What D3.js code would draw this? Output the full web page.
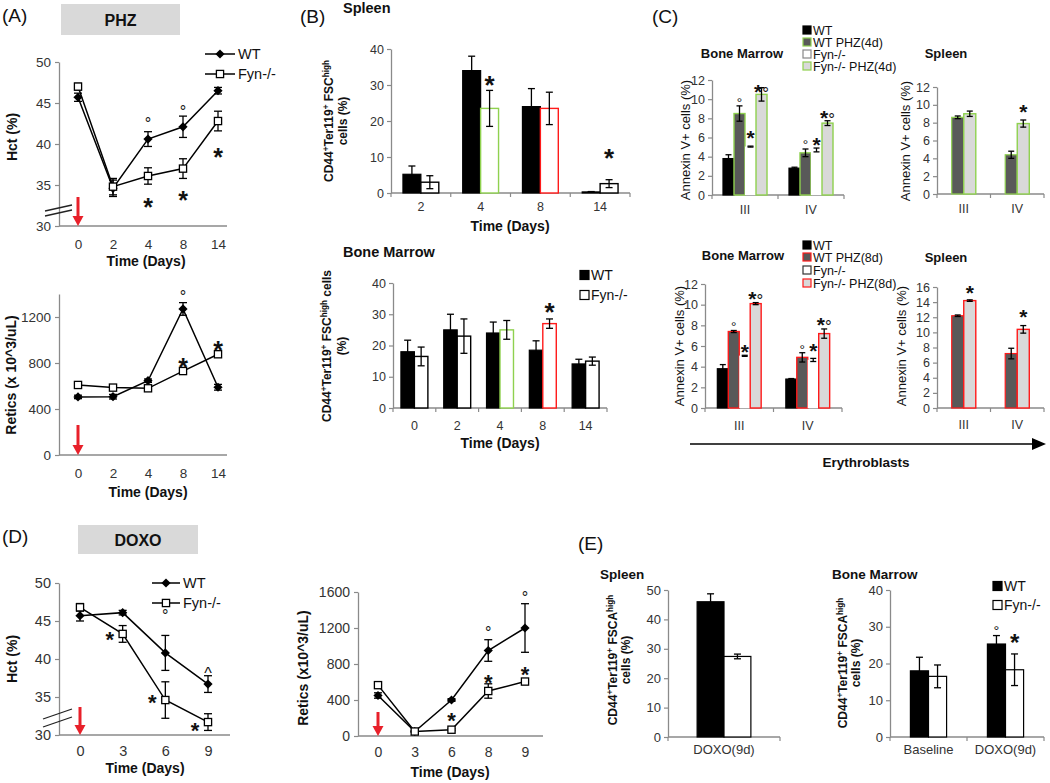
<!DOCTYPE html>
<html><head><meta charset="utf-8">
<script src="https://cdn.jsdelivr.net/npm/d3@7/dist/d3.min.js"></script>
<style>body{margin:0;background:#fff}</style>
</head><body>
<svg id="c" width="1050" height="783"></svg>
<script>
// ================= DATA =================
// (A) PHZ – Hct
const phzDays = ["0","2","4","8","14"];
const phzHctWT     = [45.7, 34.6, 40.6, 42.1, 46.5];
const phzHctWTErr  = [0.5, 1.0, 0.9, 1.3, 0.4];
const phzHctFyn    = [47.0, 34.8, 36.1, 37.0, 42.8];
const phzHctFynErr = [0.4, 1.0, 1.0, 1.2, 1.2];
const phzHctTicks  = [30, 35, 40, 45, 50];
const phzHctMarks  = [["4",43.2,"°"],["8",44.6,"°"],["4",32.9,"*"],["8",33.8,"*"],["14",39.0,"*"]];
// (A) PHZ – Retics
const phzRetWT     = [505, 507, 646, 1270, 589];
const phzRetWTErr  = [15, 20, 15, 55, 25];
const phzRetFyn    = [609, 586, 580, 730, 876];
const phzRetFynErr = [15, 20, 20, 20, 25];
const phzRetTicks  = [0, 400, 800, 1200];
const phzRetMarks  = [["8",1426,"°"],["8",809,"*"],["14",957,"*"]];
// (B) Spleen
const spleenDays   = ["2","4","8","14"];
const spleenWT     = [5.2, 34.0, 24.0, 0.3];
const spleenWTErr  = [2.3, 4.0, 5.0, 0.1];
const spleenFyn    = [3.0, 23.5, 23.5, 2.6];
const spleenFynErr = [1.8, 5.0, 4.5, 1.1];
const spleenTicks  = [0, 10, 20, 30, 40];
const spleenMarks  = [["4",1,31.5,"*"],["14",1,11.4,"*"]];
// (B) Bone marrow
const bmDays       = ["0","2","4","8","14"];
const bmWT         = [18.0, 25.0, 24.0, 18.5, 14.1];
const bmWTErr      = [3.7, 5.0, 3.5, 3.0, 1.5];
const bmFyn        = [16.5, 23.0, 25.0, 27.0, 15.0];
const bmFynErr     = [3.0, 5.5, 3.0, 1.5, 1.3];
const bmMarks      = [["8",1,32.5,"*"]];
// (C) Annexin V
const stages = ["III","IV"];
const bm4WT = [3.8, 2.8],  bm4WTErr = [0.4, 0.1];
const bm4WTPHZ = [8.5, 4.4], bm4WTPHZErr = [0.8, 0.4];
const bm4Fyn = [5.05, 4.7], bm4FynErr = [0.05, 0.2];
const bm4FynPHZ = [10.5, 7.5], bm4FynPHZErr = [0.7, 0.25];
const bm4Marks = [["III",1,10.1,"°"],["III",2,6.5,"*"],["III",3,11.3,"*°"],["IV",1,5.7,"°"],["IV",2,5.7,"*"],["IV",3,8.6,"*°"]];
const sp4WTPHZ = [8.6, 4.4], sp4WTPHZErr = [0.15, 0.4];
const sp4FynPHZ = [9.0, 7.9], sp4FynPHZErr = [0.3, 0.4];
const sp4Marks = [["IV",1,9.75,"*"]];
const bm8WT = [3.8, 2.8], bm8WTErr = [0.4, 0.05];
const bm8WTPHZ = [7.4, 4.9], bm8WTPHZErr = [0.1, 0.45];
const bm8Fyn = [5.05, 4.65], bm8FynErr = [0.05, 0.15];
const bm8FynPHZ = [10.1, 7.2], bm8FynPHZErr = [0.1, 0.45];
const bm8Marks = [["III",1,8.3,"°"],["III",2,5.9,"*"],["III",3,11.0,"*°"],["IV",1,6.1,"°"],["IV",2,6.0,"*"],["IV",3,8.5,"*°"]];
const sp8WTPHZ = [12.2, 7.2], sp8WTPHZErr = [0.1, 0.7];
const sp8FynPHZ = [14.2, 10.4], sp8FynPHZErr = [0.1, 0.5];
const sp8Marks = [["III",1,15.9,"*"],["IV",1,12.7,"*"]];
const annexTicks12 = [0,2,4,6,8,10,12];
const annexTicks16 = [0,2,4,6,8,10,12,14,16];
// (D) DOXO – Hct
const doxDays = ["0","3","6","9"];
const doxHctWT = [45.7, 46.1, 40.8, 36.7], doxHctWTErr = [0.7, 0.3, 2.3, 1.1];
const doxHctFyn = [46.8, 43.3, 34.6, 31.7], doxHctFynErr = [0.5, 1.1, 2.4, 1.1];
const doxHctMarks = [["3",43.2,"*","l"],["6",46.4,"°"],["6",34.9,"*","l"],["9",38.7,"^"],["9",31.3,"*","l"]];
// (D) DOXO – Retics
const doxRetDays = ["0","3","6","8","9"];
const doxRetWT = [450, 50, 400, 950, 1200], doxRetWTErr = [30, 10, 15, 120, 270];
const doxRetFyn = [565, 50, 70, 500, 605], doxRetFynErr = [35, 10, 10, 80, 30];
const doxRetTicks = [0, 400, 800, 1200, 1600];
const doxRetMarks = [["6",233,"*"],["8",1211,"°"],["8",656,"*"],["9",1600,"°"],["9",744,"*"]];
// (E)
const eSpleenCats = ["DOXO(9d)"];
const eSpleenWT = [46.0], eSpleenWTErr = [2.7];
const eSpleenFyn = [27.4], eSpleenFynErr = [0.8];
const eBmCats = ["Baseline","DOXO(9d)"];
const eBmWT = [18.0, 25.3], eBmWTErr = [3.7, 2.3];
const eBmFyn = [16.5, 18.3], eBmFynErr = [3.1, 4.3];
const eBmMarks = [["DOXO(9d)",0,30.2,"°"],["DOXO(9d)",1,27.0,"*"]];

// ================= DRAWING =================
const FONT = '"Liberation Sans", Arial, Helvetica, sans-serif';
const GREEN = "#8fd14f", RED = "#ff1a1a", DARK = "#595959", LIGHT = "#d9d9d9";
const AXIS = "#8a8a8a", TICKC = "#333";
const svg = d3.select("#c").attr("font-family", FONT);

function txt(x, y, s, o = {}) {
  const t = svg.append("text").attr("x", x).attr("y", y)
    .attr("font-size", o.fs || 14).attr("font-weight", o.bold ? "bold" : "normal")
    .attr("text-anchor", o.anchor || "start").attr("fill", o.fill || "#111");
  if (Array.isArray(s)) {
    s.forEach(p => {
      const ts = t.append("tspan").text(p[0]);
      if (p[1]) ts.attr("font-size", "0.68em").attr("baseline-shift", "super");
    });
  } else t.text(s);
  if (o.rot) t.attr("transform", `rotate(-90,${x},${y})`);
  return t;
}
function mark(x, cy, s, fs) {
  if (s === "*°") {
    const t = svg.append("text").attr("x", x).attr("y", cy + fs * 0.57).attr("text-anchor", "middle")
      .attr("font-size", fs).attr("fill", "#111");
    t.append("tspan").attr("font-weight", "bold").text("*");
    t.append("tspan").attr("font-size", "0.8em").text("°");
    return;
  }
  const k = s === "^" ? 0.52 : 0.57;
  txt(x, cy + fs * k, s, { fs: s === "*" ? fs : fs * 0.85, anchor: "middle", fill: "#111", bold: s === "*" });
}
function styleAxis(a, fs) {
  a.attr("font-family", FONT).attr("font-size", fs);
  a.select(".domain").attr("stroke", AXIS).attr("stroke-width", 1.3);
  a.selectAll(".tick line").attr("stroke", AXIS).attr("stroke-width", 1.2);
  a.selectAll(".tick text").attr("fill", TICKC);
}
function errBar(g, x, y1, y2, w) {
  g.append("line").attr("x1", x).attr("x2", x).attr("y1", y1).attr("y2", y2);
  g.append("line").attr("x1", x - w).attr("x2", x + w).attr("y1", y1).attr("y2", y1);
  g.append("line").attr("x1", x - w).attr("x2", x + w).attr("y1", y2).attr("y2", y2);
}
function diamond(g, x, y, r) {
  g.append("path").attr("d", `M${x},${y - r}L${x + r},${y}L${x},${y + r}L${x - r},${y}Z`).attr("fill", "#000");
}
function square(g, x, y, r) {
  g.append("rect").attr("x", x - r).attr("y", y - r).attr("width", 2 * r).attr("height", 2 * r)
    .attr("fill", "#fff").attr("stroke", "#000").attr("stroke-width", 1.3);
}
function redArrow(x, y0, y1) {
  svg.append("line").attr("x1", x).attr("x2", x).attr("y1", y0).attr("y2", y1 - 8)
    .attr("stroke", "#e8202a").attr("stroke-width", 3);
  svg.append("path").attr("d", `M${x - 5.5},${y1 - 10}L${x + 5.5},${y1 - 10}L${x},${y1}Z`).attr("fill", "#e8202a");
}
function breakMarks(x0, x1, ya, yb, dy) {
  [0, dy].forEach(o => svg.append("line").attr("x1", x0).attr("x2", x1)
    .attr("y1", ya + o).attr("y2", yb + o).attr("stroke", "#222").attr("stroke-width", 1.3));
}
const intFmt = d3.format("d");

function linePanel(o) {
  const x = d3.scalePoint().domain(o.days).range([o.c0, o.c1]);
  const y = d3.scaleLinear().domain(o.dom).range([o.bot, o.top]);
  const g = svg.append("g");
  const ya = g.append("g").attr("transform", `translate(${o.ax0},0)`)
    .call(d3.axisLeft(y).tickValues(o.ticks).tickFormat(intFmt).tickSize(4).tickSizeOuter(0).tickPadding(4));
  styleAxis(ya, o.fs);
  const xa = g.append("g").attr("transform", `translate(0,${o.bot})`)
    .call(d3.axisBottom(x).tickSize(0).tickPadding(o.xpad));
  xa.select(".domain").remove();
  styleAxis(xa, o.fs);
  g.append("line").attr("x1", o.ax0).attr("x2", o.ax1).attr("y1", o.bot).attr("y2", o.bot)
    .attr("stroke", AXIS).attr("stroke-width", 1.3);
  const eg = g.append("g").attr("stroke", "#000").attr("stroke-width", 1.3);
  [[o.wt, o.wtErr], [o.fyn, o.fynErr]].forEach(([v, e]) => {
    v.forEach((d, i) => errBar(eg, x(o.days[i]), y(d + e[i]), y(d - e[i]), 4));
  });
  const line = d3.line().x((d, i) => x(o.days[i])).y(d => y(d));
  [o.wt, o.fyn].forEach(v => g.append("path").attr("d", line(v)).attr("fill", "none")
    .attr("stroke", "#000").attr("stroke-width", 1.5));
  o.wt.forEach((d, i) => diamond(g, x(o.days[i]), y(d), 4.6));
  o.fyn.forEach((d, i) => square(g, x(o.days[i]), y(d), 3.6));
  (o.marks || []).forEach(m => {
    const fs = m[2] === "*" ? (o.starFs || 24) : 19;
    mark(x(m[0]) + (m[3] === "l" ? -13 : 0), y(m[1]), m[2], fs);
  });
  return { x, y };
}

function barPanel(o) {
  const x = d3.scaleBand().domain(o.cats).range([o.ax0, o.ax1]).paddingInner(o.pad).paddingOuter(o.pad / 2);
  const xs = d3.scaleBand().domain(d3.range(o.series.length)).range([0, x.bandwidth()]);
  const y = d3.scaleLinear().domain(o.dom).range([o.bot, o.top]);
  const g = svg.append("g");
  const ya = g.append("g").attr("transform", `translate(${o.ax0},0)`)
    .call(d3.axisLeft(y).tickValues(o.ticks).tickFormat(intFmt).tickSize(4).tickSizeOuter(0).tickPadding(3));
  styleAxis(ya, o.fs);
  const xa = g.append("g").attr("transform", `translate(0,${o.bot})`)
    .call(d3.axisBottom(x).tickSize(0).tickPadding(o.xpad));
  xa.select(".domain").remove();
  styleAxis(xa, o.fs);
  g.append("line").attr("x1", o.ax0).attr("x2", o.ax1).attr("y1", o.bot).attr("y2", o.bot)
    .attr("stroke", AXIS).attr("stroke-width", 1.3);
  d3.range(o.cats.length + 1).forEach(i => {
    const tx = o.ax0 + i * x.step();
    g.append("line").attr("x1", tx).attr("x2", tx).attr("y1", o.bot).attr("y2", o.bot + 4)
      .attr("stroke", AXIS).attr("stroke-width", 1.2);
  });
  o.series.forEach((s, si) => {
    g.append("g").selectAll("rect").data(s.vals).join("rect")
      .attr("x", (d, i) => x(o.cats[i]) + xs(si)).attr("width", xs.bandwidth())
      .attr("y", d => y(d)).attr("height", d => o.bot - y(d))
      .attr("fill", s.fill)
      .attr("stroke", (d, i) => typeof s.stroke === "function" ? s.stroke(o.cats[i]) : s.stroke)
      .attr("stroke-width", s.sw || 1.2);
  });
  const eg = g.append("g").attr("stroke", "#000").attr("stroke-width", 1.3);
  o.series.forEach((s, si) => {
    s.vals.forEach((d, i) => {
      const cx = x(o.cats[i]) + xs(si) + xs.bandwidth() / 2;
      errBar(eg, cx, y(d + s.errs[i]), y(Math.max(0, d - s.errs[i])), o.cap || 3.5);
    });
  });
  (o.marks || []).forEach(m => {
    const cx = x(m[0]) + xs(m[1]) + xs.bandwidth() / 2;
    const fs = m[3] === "°" ? (o.degFs || 17) : (o.starFs || 22);
    mark(cx, y(m[2]), m[3], fs);
  });
  return { x, y };
}
function legendSq(x, y, fill, stroke, label, fs, sz) {
  svg.append("rect").attr("x", x).attr("y", y - sz / 2).attr("width", sz).attr("height", sz)
    .attr("fill", fill).attr("stroke", stroke).attr("stroke-width", 1.2);
  txt(x + sz + 2, y + fs * 0.36, label, { fs: fs, fill: "#111" });
}
function legendLine(x0, x1, y, kind, label) {
  svg.append("line").attr("x1", x0).attr("x2", x1).attr("y1", y).attr("y2", y).attr("stroke", "#000").attr("stroke-width", 1.5);
  if (kind === "wt") diamond(svg, (x0 + x1) / 2, y, 4.6); else square(svg, (x0 + x1) / 2, y, 3.6);
  txt(x1 + 3, y + 5, label, { fs: 14.5 });
}

// ---------- Panel A ----------
txt(2, 22, "(A)", { fs: 19 });
svg.append("rect").attr("x", 61).attr("y", 4).attr("width", 119).attr("height", 31).attr("fill", LIGHT);
txt(120.5, 26, "PHZ", { fs: 16, bold: true, anchor: "middle" });
linePanel({ days: phzDays, wt: phzHctWT, wtErr: phzHctWTErr, fyn: phzHctFyn, fynErr: phzHctFynErr,
  c0: 78, c1: 218, ax0: 59, ax1: 227, top: 62, bot: 226, dom: [30, 50], ticks: phzHctTicks, fs: 13.5, xpad: 13,
  marks: phzHctMarks, starFs: 25 });
breakMarks(45, 72, 211, 205, 5);
redArrow(78, 197, 226);
txt(17, 137, "Hct (%)", { fs: 14, bold: true, anchor: "middle", rot: true });
txt(146, 266, "Time (Days)", { fs: 14, bold: true, anchor: "middle" });
legendLine(205, 235, 54, "wt", "WT");
legendLine(205, 235, 74, "fyn", "Fyn-/-");

linePanel({ days: phzDays, wt: phzRetWT, wtErr: phzRetWTErr, fyn: phzRetFyn, fynErr: phzRetFynErr,
  c0: 78, c1: 218, ax0: 59, ax1: 227, top: 294, bot: 455, dom: [0, 1400], ticks: phzRetTicks, fs: 13.5, xpad: 13,
  marks: phzRetMarks, starFs: 25 });
redArrow(78, 425, 455);
txt(16, 375, "Retics (x 10^3/uL)", { fs: 14, bold: true, anchor: "middle", rot: true });
txt(148, 497, "Time (Days)", { fs: 14, bold: true, anchor: "middle" });

// ---------- Panel B ----------
txt(300, 23, "(B)", { fs: 19 });
txt(343, 13, "Spleen", { fs: 14.5, bold: true });
barPanel({ cats: spleenDays, ax0: 391, ax1: 630, pad: 0.4, top: 49, bot: 193, dom: [0, 40], ticks: spleenTicks,
  fs: 12.5, xpad: 9, marks: spleenMarks, starFs: 26,
  series: [
    { vals: spleenWT, errs: spleenWTErr, fill: "#000", stroke: "#000" },
    { vals: spleenFyn, errs: spleenFynErr, fill: "#fff", stroke: c => c === "4" ? GREEN : c === "8" ? RED : "#000", sw: 1.4 }
  ] });
txt(333, 121, [["CD44"], ["+", 1], ["Ter119"], ["+", 1], [" FSC"], ["high", 1]], { fs: 12, bold: true, anchor: "middle", rot: true });
txt(347, 121, "cells (%)", { fs: 12, bold: true, anchor: "middle", rot: true });
txt(510, 231, "Time (Days)", { fs: 14, bold: true, anchor: "middle" });

txt(343, 257, "Bone Marrow", { fs: 14.5, bold: true });
barPanel({ cats: bmDays, ax0: 393, ax1: 607, pad: 0.37, top: 283, bot: 408, dom: [0, 40], ticks: spleenTicks,
  fs: 12.5, xpad: 13, marks: bmMarks, starFs: 26,
  series: [
    { vals: bmWT, errs: bmWTErr, fill: "#000", stroke: "#000" },
    { vals: bmFyn, errs: bmFynErr, fill: "#fff", stroke: c => c === "4" ? GREEN : c === "8" ? RED : "#000", sw: 1.4 }
  ] });
txt(331, 346, [["CD44"], ["+", 1], ["Ter119"], ["+", 1], [" FSC"], ["high", 1], [" cells"]], { fs: 12, bold: true, anchor: "middle", rot: true });
txt(346, 346, "(%)", { fs: 12, bold: true, anchor: "middle", rot: true });
txt(500, 448, "Time (Days)", { fs: 14, bold: true, anchor: "middle" });
legendSq(580, 275, "#000", "#000", "WT", 14, 9);
legendSq(580, 295, "#fff", "#000", "Fyn-/-", 14, 9);

// ---------- Panel C ----------
txt(652, 23, "(C)", { fs: 19 });
txt(742, 58, "Bone Marrow", { fs: 13, bold: true, anchor: "middle" });
barPanel({ cats: stages, ax0: 712, ax1: 844, pad: 0.333, top: 80, bot: 195, dom: [0, 12], ticks: annexTicks12,
  fs: 12.5, xpad: 10, marks: bm4Marks, starFs: 21, degFs: 16, cap: 3,
  series: [
    { vals: bm4WT, errs: bm4WTErr, fill: "#000", stroke: "#000" },
    { vals: bm4WTPHZ, errs: bm4WTPHZErr, fill: DARK, stroke: GREEN, sw: 1.4 },
    { vals: bm4Fyn, errs: bm4FynErr, fill: "#fff", stroke: "#fff", sw: 0.1 },
    { vals: bm4FynPHZ, errs: bm4FynPHZErr, fill: LIGHT, stroke: GREEN, sw: 1.4 }
  ] });
txt(690, 140, "Annexin V+ cells (%)", { fs: 13, anchor: "middle", rot: true });
legendSq(803, 30, "#000", "#000", "WT", 12.5, 8);
legendSq(803, 42, DARK, GREEN, "WT PHZ(4d)", 12.5, 8);
legendSq(803, 54, "#fff", "#888", "Fyn-/-", 12.5, 8);
legendSq(803, 66, LIGHT, GREEN, "Fyn-/- PHZ(4d)", 12.5, 8);

txt(946, 58, "Spleen", { fs: 13, bold: true, anchor: "middle" });
barPanel({ cats: stages, ax0: 937, ax1: 1044, pad: 0.55, top: 87, bot: 194, dom: [0, 12], ticks: annexTicks12,
  fs: 12.5, xpad: 10, marks: sp4Marks, starFs: 21, degFs: 16, cap: 3,
  series: [
    { vals: sp4WTPHZ, errs: sp4WTPHZErr, fill: DARK, stroke: GREEN, sw: 1.2 },
    { vals: sp4FynPHZ, errs: sp4FynPHZErr, fill: LIGHT, stroke: GREEN, sw: 1.4 }
  ] });
txt(910, 141, "Annexin V+ cells (%)", { fs: 13, anchor: "middle", rot: true });

txt(743, 260, "Bone Marrow", { fs: 13, bold: true, anchor: "middle" });
barPanel({ cats: stages, ax0: 705, ax1: 842, pad: 0.36, top: 284, bot: 408, dom: [0, 12], ticks: annexTicks12,
  fs: 12.5, xpad: 13, marks: bm8Marks, starFs: 21, degFs: 16, cap: 3,
  series: [
    { vals: bm8WT, errs: bm8WTErr, fill: "#000", stroke: "#000" },
    { vals: bm8WTPHZ, errs: bm8WTPHZErr, fill: DARK, stroke: RED, sw: 1.4 },
    { vals: bm8Fyn, errs: bm8FynErr, fill: "#fff", stroke: "#fff", sw: 0.1 },
    { vals: bm8FynPHZ, errs: bm8FynPHZErr, fill: LIGHT, stroke: RED, sw: 1.4 }
  ] });
txt(684, 346, "Annexin V+ cells (%)", { fs: 13, anchor: "middle", rot: true });
legendSq(803, 245, "#000", "#000", "WT", 12.5, 8);
legendSq(803, 257, DARK, RED, "WT PHZ(8d)", 12.5, 8);
legendSq(803, 270, "#fff", "#333", "Fyn-/-", 12.5, 8);
legendSq(803, 283, LIGHT, RED, "Fyn-/- PHZ(8d)", 12.5, 8);

txt(946, 262, "Spleen", { fs: 13, bold: true, anchor: "middle" });
barPanel({ cats: stages, ax0: 937, ax1: 1044, pad: 0.55, top: 287, bot: 408, dom: [0, 16], ticks: annexTicks16,
  fs: 12.5, xpad: 12, marks: sp8Marks, starFs: 21, degFs: 16, cap: 3,
  series: [
    { vals: sp8WTPHZ, errs: sp8WTPHZErr, fill: DARK, stroke: RED, sw: 1.2 },
    { vals: sp8FynPHZ, errs: sp8FynPHZErr, fill: LIGHT, stroke: RED, sw: 1.4 }
  ] });
txt(906, 346, "Annexin V+ cells (%)", { fs: 13, anchor: "middle", rot: true });

svg.append("line").attr("x1", 690).attr("x2", 1035).attr("y1", 444).attr("y2", 444).attr("stroke", "#000").attr("stroke-width", 1.6);
svg.append("path").attr("d", "M1046,444L1032,438L1032,450Z").attr("fill", "#000");
txt(866, 467, "Erythroblasts", { fs: 13.5, bold: true, anchor: "middle" });

// ---------- Panel D ----------
txt(2, 543, "(D)", { fs: 19 });
svg.append("rect").attr("x", 78).attr("y", 525).attr("width", 120).attr("height", 29).attr("fill", LIGHT);
txt(138, 546, "DOXO", { fs: 16, bold: true, anchor: "middle" });
linePanel({ days: doxDays, wt: doxHctWT, wtErr: doxHctWTErr, fyn: doxHctFyn, fynErr: doxHctFynErr,
  c0: 80, c1: 208, ax0: 59, ax1: 230, top: 583, bot: 735, dom: [30, 50], ticks: phzHctTicks, fs: 14.5, xpad: 11,
  marks: doxHctMarks, starFs: 22 });
breakMarks(43, 72, 719, 709, 8);
redArrow(80, 707, 735);
txt(17, 659, "Hct (%)", { fs: 14, bold: true, anchor: "middle", rot: true });
txt(145, 773, "Time (Days)", { fs: 14, bold: true, anchor: "middle" });
legendLine(152, 180, 583, "wt", "WT");
legendLine(152, 180, 603, "fyn", "Fyn-/-");

linePanel({ days: doxRetDays, wt: doxRetWT, wtErr: doxRetWTErr, fyn: doxRetFyn, fynErr: doxRetFynErr,
  c0: 378, c1: 525, ax0: 358, ax1: 543, top: 592, bot: 736, dom: [0, 1600], ticks: doxRetTicks, fs: 14, xpad: 11,
  marks: doxRetMarks, starFs: 22 });
redArrow(378, 712, 736);
txt(308, 668, "Retics (x10^3/uL)", { fs: 14, bold: true, anchor: "middle", rot: true });
txt(450, 777, "Time (Days)", { fs: 14, bold: true, anchor: "middle" });

// ---------- Panel E ----------
txt(578, 550, "(E)", { fs: 19 });
txt(600, 579, "Spleen", { fs: 13.5, bold: true });
barPanel({ cats: eSpleenCats, ax0: 668, ax1: 780, pad: 0.52, top: 590, bot: 737, dom: [0, 50], ticks: [0,10,20,30,40,50],
  fs: 13, xpad: 8, series: [
    { vals: eSpleenWT, errs: eSpleenWTErr, fill: "#000", stroke: "#000" },
    { vals: eSpleenFyn, errs: eSpleenFynErr, fill: "#fff", stroke: "#000" }
  ] });
txt(617, 660, [["CD44"], ["+", 1], ["Ter119"], ["+", 1], [" FSCA"], ["high", 1]], { fs: 12, bold: true, anchor: "middle", rot: true });
txt(630, 660, "cells (%)", { fs: 12, bold: true, anchor: "middle", rot: true });

txt(832, 579, "Bone Marrow", { fs: 13.5, bold: true });
barPanel({ cats: eBmCats, ax0: 890, ax1: 1044, pad: 0.53, top: 590, bot: 737, dom: [0, 40], ticks: [0,10,20,30,40],
  fs: 13, xpad: 8, marks: eBmMarks, starFs: 24, degFs: 17, series: [
    { vals: eBmWT, errs: eBmWTErr, fill: "#000", stroke: "#000" },
    { vals: eBmFyn, errs: eBmFynErr, fill: "#fff", stroke: "#000" }
  ] });
txt(847, 663, [["CD44"], ["+", 1], ["Ter119"], ["+", 1], [" FSCA"], ["high", 1]], { fs: 12, bold: true, anchor: "middle", rot: true });
txt(860, 663, "cells (%)", { fs: 12, bold: true, anchor: "middle", rot: true });
legendSq(993, 586, "#000", "#000", "WT", 14, 9);
legendSq(993, 605, "#fff", "#000", "Fyn-/-", 14, 9);
</script>
</body></html>
